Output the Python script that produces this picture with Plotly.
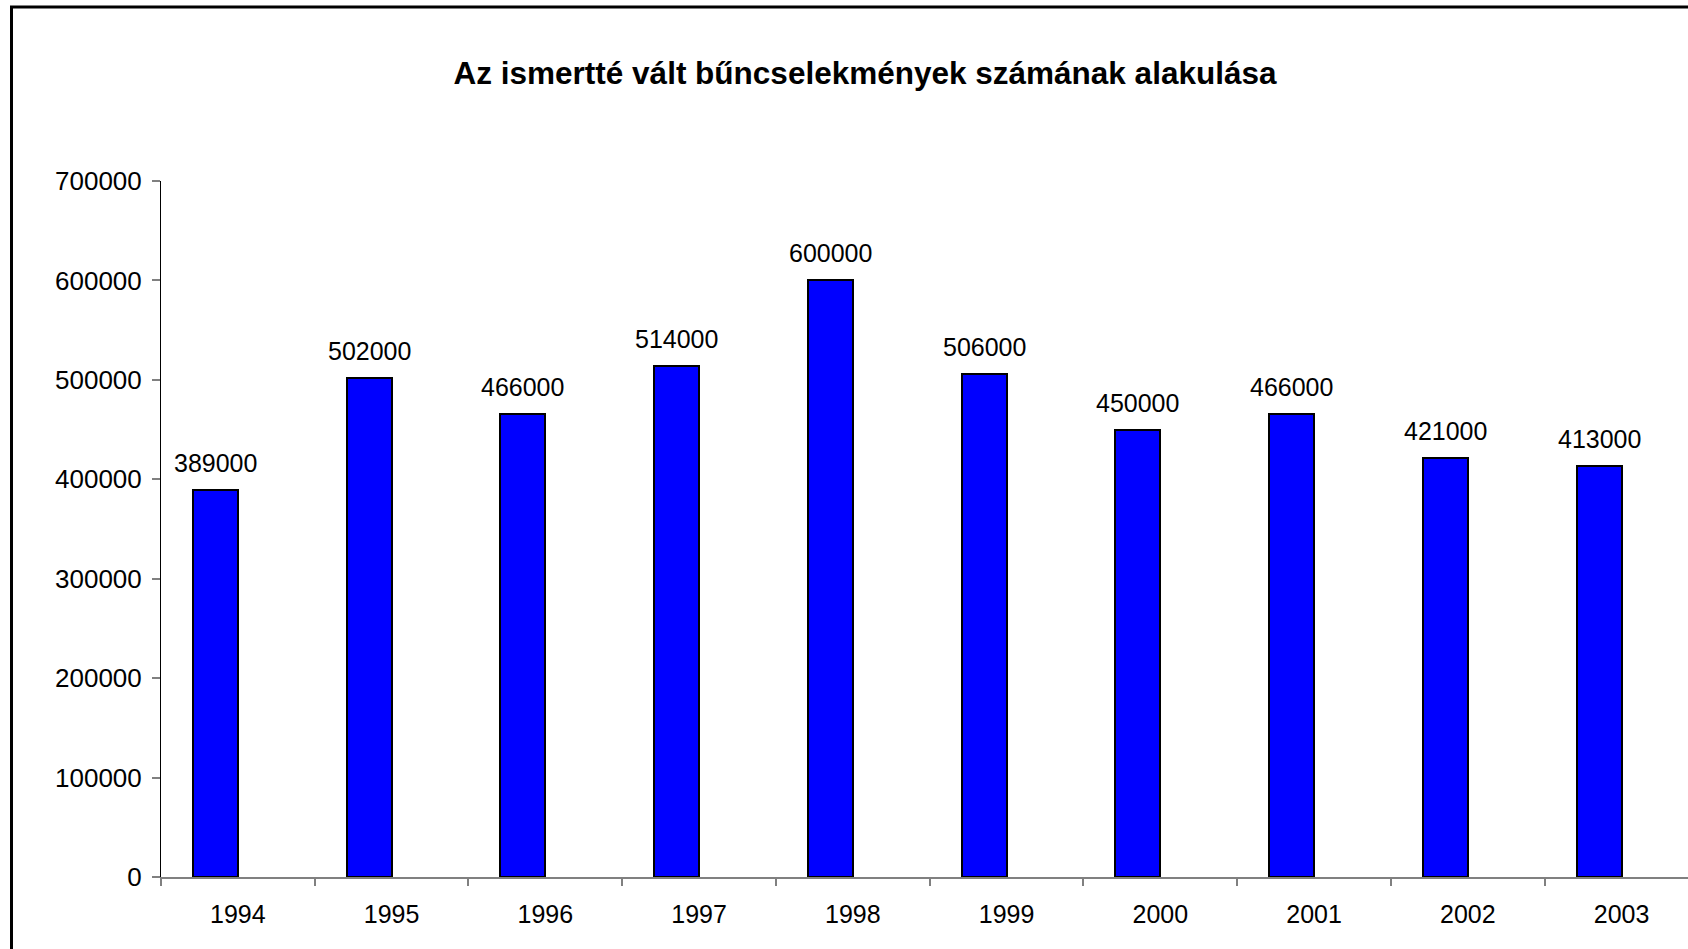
import plotly.graph_objects as go

years = ["1994", "1995", "1996", "1997", "1998", "1999", "2000", "2001", "2002", "2003"]
values = [389000, 502000, 466000, 514000, 600000, 506000, 450000, 466000, 421000, 413000]
y_ticks = [0, 100000, 200000, 300000, 400000, 500000, 600000, 700000]
title_text = "Az ismertté vált bűncselekmények számának alakulása"

W, H = 1688, 949
ML, MR, MT, MB = 161, 0, 180.5, 72
BAR_W = 0.293
X_RANGE = [-0.5, 9.432]
plot_w = W - ML - MR
plot_h = H - MT - MB
cat_px = plot_w / (X_RANGE[1] - X_RANGE[0])

FONT = "Liberation Sans, Arial, sans-serif"

fig = go.Figure()
fig.add_trace(go.Bar(
    x=years, y=values,
    width=BAR_W, offset=-BAR_W,
    marker=dict(color="#0000FF", line=dict(color="#000000", width=2)),
    hoverinfo="x+y",
))

# value labels above bars (numeric category index so "1994" is not read as a number)
for i, v in enumerate(values):
    fig.add_annotation(
        x=i, y=v, xref="x", yref="y", text=str(v), showarrow=False,
        xanchor="center", yanchor="bottom",
        xshift=-BAR_W / 2 * cat_px, yshift=11,
        font=dict(family=FONT, size=25, color="#000000"),
    )

fig.update_layout(
    width=W, height=H,
    margin=dict(l=ML, r=MR, t=MT, b=MB, pad=0),
    paper_bgcolor="white", plot_bgcolor="white",
    showlegend=False,
    font=dict(family=FONT, size=25, color="#000000"),
    title=dict(
        text="<b>" + title_text + "</b>",
        font=dict(family=FONT, size=31.5, color="#000000"),
        xref="paper", x=(865 - ML) / plot_w, xanchor="center",
        yref="container", y=1 - 73 / H, yanchor="middle",
    ),
    xaxis=dict(
        type="category", range=X_RANGE,
        showline=True, linecolor="#808080", linewidth=1.5,
        ticks="outside", tickson="boundaries", ticklen=7, tickcolor="#808080", tickwidth=1.5,
        ticklabelstandoff=14,
        showgrid=False, zeroline=False,
        tickfont=dict(family=FONT, size=25, color="#000000"),
    ),
    yaxis=dict(
        range=[0, 700000], tickvals=y_ticks,
        tickformat="d",
        showline=True, linecolor="#000000", linewidth=1,
        ticks="outside", ticklen=8, tickcolor="#808080", tickwidth=1.5,
        ticklabelstandoff=5,
        showgrid=False, zeroline=False,
        tickfont=dict(family=FONT, size=26, color="#000000"),
    ),
    shapes=[dict(
        type="rect", xref="paper", yref="paper",
        x0=(11.5 - ML) / plot_w, x1=1.2,
        y0=-0.3, y1=(H - MB - 6.3) / plot_h,
        line=dict(color="#000000", width=3), fillcolor="rgba(0,0,0,0)",
    )],
    bargap=0,
)

fig.write_html("out.html", config={"displayModeBar": False},
               post_script="document.body.style.margin='0';")
